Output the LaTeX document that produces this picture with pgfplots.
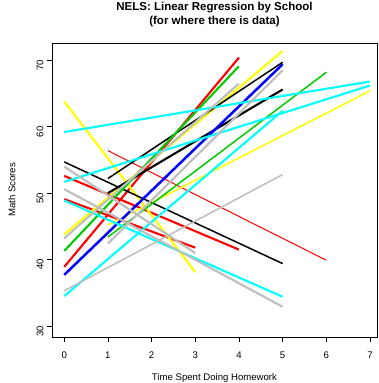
\documentclass[border=0pt]{standalone}
\usepackage{pgfplots}
\pgfplotsset{compat=1.18}
\usepackage{fontspec}
\setmainfont{Liberation Sans}
\definecolor{rred}{HTML}{FF0000}
\definecolor{rgreen}{HTML}{00CD00}
\definecolor{rblue}{HTML}{0000FF}
\definecolor{rcyan}{HTML}{00FFFF}
\definecolor{ryellow}{HTML}{FFFF00}
\definecolor{rgray}{HTML}{BEBEBE}
\begin{document}
\begin{tikzpicture}
\path[use as bounding box] (0,0) rectangle (378pt,383pt);
\begin{axis}[
  at={(52pt,46pt)}, anchor=south west,
  scale only axis, width=325pt, height=294pt,
  xmin=-0.28, xmax=7.16, ymin=28.35, ymax=72.6,
  xtick={0,...,7}, ytick={30,40,50,60,70},
  xtick pos=bottom, ytick pos=left,
  tick align=outside, major tick length=5pt,
  tick style={black, line width=0.6pt},
  axis line style={black, line width=0.7pt},
  /pgf/number format/assume math mode=true,
  font=\fontsize{9.6}{11}\selectfont,
  xticklabel style={anchor=north, yshift=-6pt},
  yticklabel style={rotate=90, anchor=south, xshift=-5pt},
  title={NELS: Linear Regression by School\\(for where there is data)},
  title style={at={(axis description cs:0.5,1)}, anchor=center, yshift=22pt,
    align=center, font=\fontsize{11.5}{14}\selectfont\bfseries},
  xlabel={Time Spent Doing Homework},
  xlabel style={at={(axis description cs:0.5,0)}, anchor=center, yshift=-41pt},
  ylabel={Math Scores},
  ylabel style={at={(axis description cs:-0.123,0.5)}, anchor=center, rotate=0},
  clip=true,
  every axis plot/.append style={line cap=butt},
  wide/.style={line width=2.1pt},
  mid/.style={line width=1.5pt},
  slim/.style={line width=1.0pt},
]
% red schools
\addplot[rred, wide] coordinates {(0,38.9) (4,70.4)};
\addplot[rred, slim] coordinates {(1,56.4) (6,39.9)};
\addplot[rred, wide] coordinates {(0,52.6) (4,41.5)};
\addplot[rred, wide] coordinates {(0,49.1) (3,41.8)};
% yellow schools
\addplot[ryellow, wide] coordinates {(0,63.8) (3,38.1)};
\addplot[ryellow, wide] coordinates {(0,43.8) (5,71.4)};
\addplot[ryellow, mid] coordinates {(1,45.2) (7,65.4)};
% black schools
\addplot[black, mid] coordinates {(0,54.7) (5,39.4)};
\addplot[black, wide] coordinates {(1,50.0) (5,65.6)};
\addplot[black, mid] coordinates {(1,52.2) (5,69.7)};
% blue school
\addplot[rblue, line width=2.5pt] coordinates {(0,37.7) (5,69.4)};
% green schools
\addplot[rgreen, wide] coordinates {(0,41.3) (4,69.1)};
\addplot[rgreen, mid] coordinates {(1,43.4) (6,68.2)};
% cyan schools
\addplot[rcyan, wide] coordinates {(0,59.2) (7,66.8)};
\addplot[rcyan, wide] coordinates {(0,51.7) (7,66.2)};
\addplot[rcyan, wide] coordinates {(0,48.9) (5,34.4)};
\addplot[rcyan, wide] coordinates {(0,34.5) (5,62.4)};
% gray schools
\addplot[rgray, mid] coordinates {(0,35.3) (5,52.8)};
\addplot[rgray, wide] coordinates {(0,43.2) (4,66.5)};
\addplot[rgray, wide] coordinates {(1,42.4) (5,68.5)};
\addplot[rgray, wide] coordinates {(0,50.6) (5,32.9)};
\addplot[rgray, wide] coordinates {(0,54.0) (3,41.0)};
\end{axis}
\end{tikzpicture}
\end{document}
